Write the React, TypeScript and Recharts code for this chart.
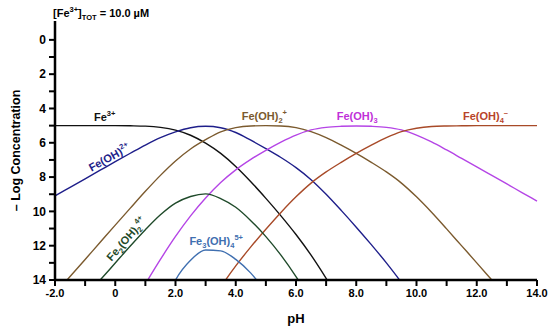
import { LineChart, Line, XAxis, YAxis, ReferenceDot } from 'recharts';

// pH grid and -log concentration of each species
const ph = [-2, -1.5, -1, -0.5, 0, 0.5, 1, 1.5, 2, 2.5, 3, 3.5, 4, 4.5, 5, 5.5, 6, 6.5, 7, 7.5, 8, 8.5, 9, 9.5, 10, 10.5, 11, 11.5, 12, 12.5, 13, 13.5, 14];

const fe3 = [5.0, 5.0, 5.0, 5.0, 5.0, 5.01, 5.03, 5.1, 5.26, 5.56, 6.02, 6.62, 7.38, 8.27, 9.24, 10.26, 11.35, 12.55, 13.9, 15.34, null, null, null, null, null, null, null, null, null, null, null, null, null];
const feOH = [9.1, 8.6, 8.1, 7.6, 7.1, 6.61, 6.13, 5.7, 5.36, 5.12, 5.04, 5.12, 5.4, 5.85, 6.34, 6.86, 7.45, 8.15, 9.0, 9.94, 10.92, 11.94, 13.0, 14.15, 15.45, null, null, null, null, null, null, null, null];
const feOH2 = [14.8, 13.8, 12.8, 11.8, 10.8, 9.81, 8.83, 7.9, 7.06, 6.36, 5.82, 5.36, 5.12, 5.02, 5.0, 5.02, 5.12, 5.35, 5.7, 6.14, 6.62, 7.14, 7.7, 8.35, 9.15, 10.05, 11.02, 12.01, 13.0, 14.0, 15.0, null, null];
const feOH3 = [null, null, null, null, null, 15.71, 14.23, 12.8, 11.46, 10.26, 9.22, 8.32, 7.58, 6.97, 6.44, 5.96, 5.55, 5.25, 5.1, 5.04, 5.02, 5.04, 5.1, 5.25, 5.55, 5.95, 6.42, 6.91, 7.4, 7.9, 8.4, 8.9, 9.4];
const feOH4 = [null, null, null, null, null, null, null, null, null, null, 15.82, 14.42, 13.18, 12.07, 11.04, 10.06, 9.15, 8.35, 7.7, 7.14, 6.62, 6.14, 5.7, 5.35, 5.15, 5.05, 5.02, 5.01, 5.0, 5.0, 5.0, 5.0, 5.0];
const fe2OH2 = [null, null, 15.0, 14.0, 13.01, 12.02, 11.07, 10.2, 9.52, 9.13, 8.98, 9.25, 9.76, 10.54, 11.47, 12.55, 13.8, 15.2, null, null, null, null, null, null, null, null, null, null, null, null, null, null, null];
const fe3OH4 = [null, null, null, null, null, null, null, 16.0, 14.0, 12.85, 12.25, 12.3, 12.8, 13.6, 14.7, null, null, null, null, null, null, null, null, null, null, null, null, null, null, null, null, null, null];

const xTicks = [-2, -1, 0, 1, 2, 3, 4, 5, 6, 7, 8, 9, 10, 11, 12, 13, 14];
const yTicks = [0, 1, 2, 3, 4, 5, 6, 7, 8, 9, 10, 11, 12, 13, 14];

const data = ph.map((p, i) => ({
  ph: p,
  fe3: fe3[i],
  feOH: feOH[i],
  feOH2: feOH2[i],
  feOH3: feOH3[i],
  feOH4: feOH4[i],
  fe2OH2: fe2OH2[i],
  fe3OH4: fe3OH4[i],
}));

const series = [
  { key: 'fe3', color: '#111111' },
  { key: 'feOH', color: '#1e1e8a' },
  { key: 'feOH2', color: '#7b5a2e' },
  { key: 'feOH3', color: '#b545e6' },
  { key: 'feOH4', color: '#a84a28' },
  { key: 'fe2OH2', color: '#1f4a2a' },
  { key: 'fe3OH4', color: '#3f6fb0' },
];

type Seg = [string, 'n' | 'sub' | 'sup'];

// species labels: position in data units, rotation, colour, text pieces
const labels: { x: number; y: number; angle: number; color: string; segs: Seg[] }[] = [
  { x: -0.35, y: 4.5, angle: 0, color: '#111111', segs: [['Fe', 'n'], ['3+', 'sup']] },
  { x: -0.2, y: 6.85, angle: -29, color: '#1e1e8a', segs: [['Fe(OH)', 'n'], ['2+', 'sup']] },
  { x: 4.95, y: 4.46, angle: 0, color: '#7b5a2e', segs: [['Fe(OH)', 'n'], ['2', 'sub'], ['+', 'sup']] },
  { x: 8.03, y: 4.46, angle: 0, color: '#c030d8', segs: [['Fe(OH)', 'n'], ['3', 'sub']] },
  { x: 12.29, y: 4.46, angle: 0, color: '#b8442a', segs: [['Fe(OH)', 'n'], ['4', 'sub'], ['–', 'sup']] },
  { x: 0.36, y: 11.6, angle: -49, color: '#1f4a2a', segs: [['Fe', 'n'], ['2', 'sub'], ['(OH)', 'n'], ['2', 'sub'], ['4+', 'sup']] },
  { x: 3.35, y: 11.75, angle: 0, color: '#3f6fb0', segs: [['Fe', 'n'], ['3', 'sub'], ['(OH)', 'n'], ['4', 'sub'], ['5+', 'sup']] },
];

const shift = { n: 0, sub: 3, sup: -5 };

const renderSegs = (segs: Seg[]) => {
  let cur = 0;
  return segs.map(([t, kind], i) => {
    const dy = shift[kind] - cur;
    cur = shift[kind];
    return (
      <tspan key={i} dy={dy} fontSize={kind === 'n' ? 11 : 7.5}>
        {t}
      </tspan>
    );
  });
};

const speciesLabel = (l: (typeof labels)[number]) => (props: any) => {
  const vb = props.viewBox;
  const cx = vb.x + vb.width / 2;
  const cy = vb.y + vb.height / 2;
  return (
    <g transform={`translate(${cx},${cy}) rotate(${l.angle})`}>
      <text x={0} y={4} textAnchor="middle" fill={l.color} fontWeight="bold" fontSize={11}>
        {renderSegs(l.segs)}
      </text>
    </g>
  );
};

const tickStyle = { fill: '#000', fontWeight: 'bold' as const };

export default function App() {
  return (
    <div style={{ position: 'absolute', left: 0, top: 0, width: 550, height: 327, fontFamily: '"Liberation Sans", Arial, sans-serif', background: '#fff' }}>
      <div style={{ position: 'absolute', left: 53, top: 3, fontSize: 11, fontWeight: 'bold', whiteSpace: 'nowrap', lineHeight: '14px' }}>
        [Fe<sup style={{ fontSize: 7.5 }}>3+</sup>]<sub style={{ fontSize: 7.5 }}>TOT</sub> = 10.0 µM
      </div>
      <LineChart width={550} height={327} data={data} margin={{ top: 21, right: 13, bottom: 0, left: 0 }}>
        <XAxis
          dataKey="ph"
          type="number"
          domain={[-2, 14]}
          ticks={xTicks}
          interval={0}
          height={47}
          tickSize={6}
          tickMargin={3}
          axisLine={{ stroke: '#000', strokeWidth: 2.5 }}
          tickLine={{ stroke: '#000', strokeWidth: 2 }}
          tick={{ ...tickStyle, fontSize: 11 }}
          tickFormatter={(v: number) => (v % 2 !== 0 ? '' : v === 0 ? '0' : v.toFixed(1))}
          label={{ value: 'pH', position: 'insideBottom', offset: 4, fill: '#000', fontSize: 13, fontWeight: 'bold' }}
        />
        <XAxis xAxisId="top" orientation="top" type="number" domain={[-2, 14]} height={0} tick={false} tickLine={false} axisLine={{ stroke: '#000', strokeWidth: 2.5 }} />
        <YAxis
          type="number"
          reversed
          domain={[-1.1, 14]}
          allowDataOverflow
          ticks={yTicks}
          interval={0}
          width={55}
          tickSize={6}
          tickMargin={3}
          axisLine={{ stroke: '#000', strokeWidth: 2.5 }}
          tickLine={{ stroke: '#000', strokeWidth: 2 }}
          tick={{ ...tickStyle, fontSize: 12 }}
          tickFormatter={(v: number) => (v % 2 !== 0 ? '' : String(v))}
          label={{ value: '– Log Concentration', angle: -90, position: 'insideLeft', offset: 16, fill: '#000', fontSize: 12.5, fontWeight: 'bold', style: { textAnchor: 'middle' } }}
        />
        <YAxis yAxisId="right" orientation="right" type="number" domain={[-1.1, 14]} width={0} tick={false} tickLine={false} axisLine={{ stroke: '#000', strokeWidth: 2.5 }} />
        {series.map((s) => (
          <Line
            key={s.key}
            type="monotone"
            dataKey={s.key}
            stroke={s.color}
            strokeWidth={1.4}
            dot={false}
            activeDot={false}
            isAnimationActive={false}
          />
        ))}
        {labels.map((l, i) => (
          <ReferenceDot key={i} x={l.x} y={l.y} r={1} fill="none" stroke="none" ifOverflow="visible" label={{ content: speciesLabel(l) }} />
        ))}
      </LineChart>
    </div>
  );
}
